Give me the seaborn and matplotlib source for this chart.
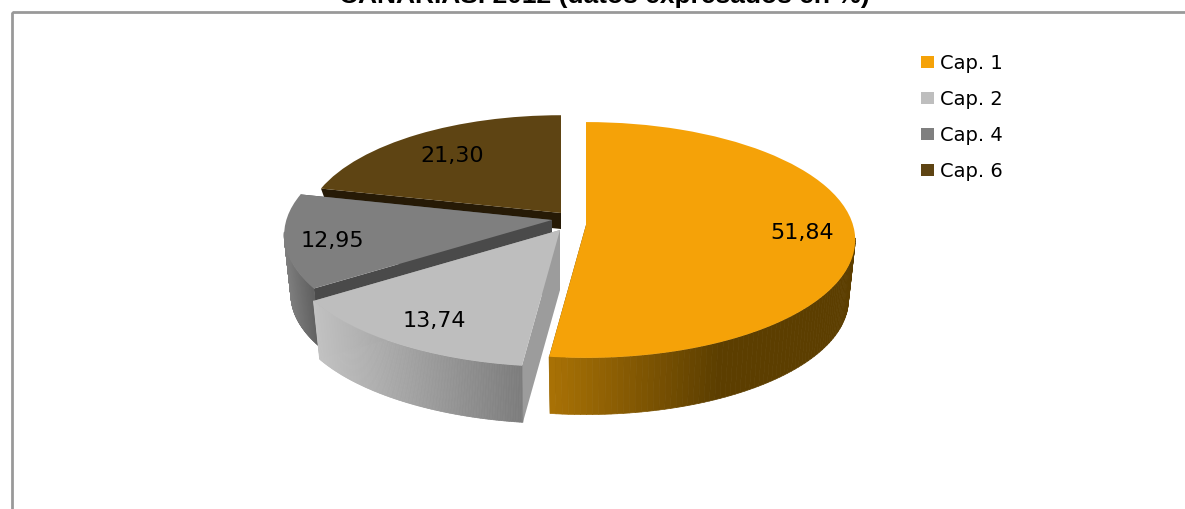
import numpy as np
import matplotlib
matplotlib.use("Agg")
import matplotlib.pyplot as plt
import seaborn as sns

from matplotlib.collections import PolyCollection
from matplotlib.colors import LinearSegmentedColormap
from matplotlib.patches import Rectangle
from matplotlib.transforms import Transform

caps = ["Cap. 1", "Cap. 2", "Cap. 4", "Cap. 6"]
values = [51.84, 13.74, 12.95, 21.30]
title = "CANARIAS. 2012 (datos expresados en %)"

top_colors = ["#F5A208", "#BEBEBE", "#7F7F7F", "#5E4413"]
wall_left = ["#A87105", "#C2C2C2", "#808080", "#2A1D07"]
wall_right = ["#5C3E00", "#7C7C7C", "#606060", "#2A1D07"]
wall_stop = [0.55, 1.0, 1.0, 1.0]
cut_colors = ["#5C3E00", "#9C9C9C", "#4A4A4A", "#261A06"]

# where each slice tip ends up after the explosion, in pixels
tips = [(586, 225), (560, 230), (552, 220), (561, 213)]
scales = [1.0, 1.03, 0.995, 0.95]
cut_depths = [60, 60, 60, 16]
label_pos = [(802, 233), (434, 321), (332, 241), (452, 156)]

RX, RY, PERSP = 267, 116, 0.127
DEPTH = 60
BASE_SHRINK = 0.975


def project(u, v, tip, s):
    w = 1 + PERSP * v
    return tip[0] + s * RX * u / w, tip[1] - s * RY * v / w


class TiltTransform(Transform):
    input_dims = 2
    output_dims = 2
    has_inverse = False

    def __init__(self, tip, s):
        super().__init__()
        self.tip = tip
        self.s = s

    def transform_non_affine(self, xy):
        x, y = project(xy[:, 0], xy[:, 1], self.tip, self.s)
        return np.column_stack([x, y])


def wall_quads(xt, yt, tip, depth=DEPTH):
    # top edge points pushed down to the bottom of the cake
    xb = tip[0] + (xt - tip[0]) * BASE_SHRINK
    yb = tip[1] + (yt - tip[1]) * BASE_SHRINK + depth
    return [[(xt[i], yt[i]), (xt[i + 1], yt[i + 1]), (xb[i + 1], yb[i + 1]), (xb[i], yb[i])]
            for i in range(len(xt) - 1)]


sns.set_theme(style="white")
plt.rcParams["font.family"] = ["DejaVu Sans"]

fig = plt.figure(figsize=(11.85, 5.09), dpi=100)
ax = fig.add_axes([0, 0, 1, 1])

palette = sns.color_palette(top_colors)
wedges, _ = ax.pie(values, startangle=90, counterclock=False, colors=palette,
                   wedgeprops={"linewidth": 0})

ax.set_aspect("auto")
ax.set_xlim(0, 1185)
ax.set_ylim(509, 0)
ax.axis("off")

for i, w in enumerate(wedges):
    tip, s = tips[i], scales[i]
    z = 10 * (len(wedges) - i)
    w.set_transform(TiltTransform(tip, s) + ax.transData)
    w.set_zorder(z)

    ang = np.radians(np.linspace(w.theta1, w.theta2, 160))
    xt, yt = project(np.cos(ang), np.sin(ang), tip, s)

    # straight cut faces first, the ones going straight back stay hidden
    for k in (0, -1):
        if abs(xt[k] - tip[0]) < 3 and yt[k] < tip[1]:
            continue
        xe = np.array([tip[0], xt[k]])
        ye = np.array([tip[1], yt[k]])
        ax.add_collection(PolyCollection(wall_quads(xe, ye, tip, cut_depths[i]),
                                         facecolors=cut_colors[i],
                                         edgecolors="none", zorder=z - 2))

    # curved outer wall, only the part facing the viewer
    front = np.sin(ang) < -0.1
    xf, yf = xt[front], yt[front]
    if len(xf) < 2:
        continue
    cmap = LinearSegmentedColormap.from_list(
        "wall", [(0, wall_left[i]), (wall_stop[i], wall_right[i]), (1, wall_right[i])])
    t = (xf[:-1] - xf.min()) / (xf.max() - xf.min())
    cols = cmap(t)
    ax.add_collection(PolyCollection(wall_quads(xf, yf, tip), facecolors=cols, edgecolors=cols,
                                     linewidths=0.5, zorder=z - 1))

for v, (x, y) in zip(values, label_pos):
    ax.text(x, y, f"{v:.2f}".replace(".", ","), ha="center", va="center",
            fontsize=16, color="black", zorder=100)

ax.add_patch(Rectangle((11.5, 11.5), 1300, 600, fill=False, edgecolor="#999999",
                       linewidth=2, clip_on=True, zorder=1))
ax.text(604, 3, title, ha="center", va="baseline", fontsize=19, fontweight="bold",
        family="Liberation Sans", color="black", clip_on=False)

ax.legend(wedges, caps, loc="upper left", bbox_to_anchor=(921 / 1185, 1 - 54 / 509),
          frameon=False, fontsize=14, labelspacing=0.87, handlelength=0.68,
          handleheight=0.62, handletextpad=0.3, borderpad=0, borderaxespad=0,
          labelcolor="black")

fig.savefig("out.png", dpi=100)
